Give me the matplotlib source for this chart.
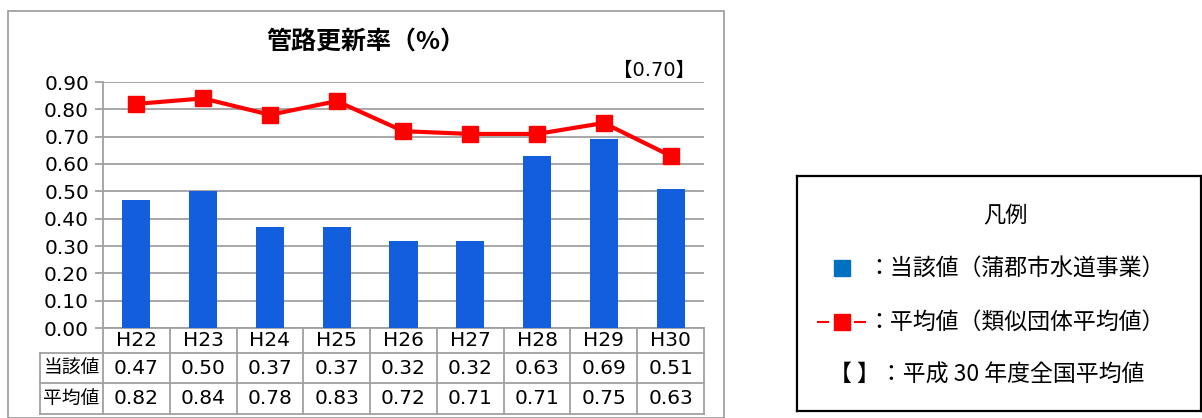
import matplotlib
matplotlib.use("Agg")
import matplotlib.pyplot as plt
from matplotlib.patches import Rectangle
from matplotlib.lines import Line2D
from matplotlib.transforms import blended_transform_factory

# digits in DejaVu (wide like the original), kanji fall back to Noto CJK
plt.rcParams['font.family'] = ['DejaVu Sans', 'Noto Sans CJK JP']
CJK = ['Noto Sans CJK JP', 'DejaVu Sans']

# data
years = ['H22', 'H23', 'H24', 'H25', 'H26', 'H27', 'H28', 'H29', 'H30']
own_values = [0.47, 0.50, 0.37, 0.37, 0.32, 0.32, 0.63, 0.69, 0.51]
avg_values = [0.82, 0.84, 0.78, 0.83, 0.72, 0.71, 0.71, 0.75, 0.63]
row_labels = ['当該値', '平均値']
national_avg = '【0.70】'
yticks = [0.0, 0.1, 0.2, 0.3, 0.4, 0.5, 0.6, 0.7, 0.8, 0.9]

W, H = 1202, 418
fig = plt.figure(figsize=(W / 100, H / 100), dpi=100)

def fx(px):
    return px / W

def fy(py):
    return 1 - py / H

# outer chart frame
fig.add_artist(Rectangle((fx(8), fy(418)), fx(716), fy(11) - fy(418),
                         transform=fig.transFigure, fill=False,
                         edgecolor='#9a9a9a', lw=1.2))
fig.text(fx(366), fy(42), '管路更新率（%）', ha='center', va='center',
         fontsize=18, fontweight='bold', family=CJK)

# main plot area
ax = fig.add_axes([fx(103), fy(328), fx(704 - 103), fy(82) - fy(328)])
x = list(range(len(years)))
ax.bar(x, own_values, width=0.42, color='#135EDC', zorder=3)
ax.plot(x, avg_values, color='#FF0000', lw=3, marker='s', markersize=12,
        zorder=4)
ax.set_xlim(-0.5, len(years) - 0.5)
ax.set_ylim(0, 0.9)
ax.set_yticks(yticks)
ax.set_yticklabels([f'{v:.2f}' for v in yticks], fontsize=14.5)
ax.set_xticks([])
ax.yaxis.grid(True, color='#a0a0a0', lw=1.3)
ax.set_axisbelow(True)
for s in ['top', 'right', 'bottom']:
    ax.spines[s].set_visible(False)
ax.spines['left'].set_color('#a0a0a0')
ax.spines['left'].set_linewidth(1.3)
ax.tick_params(axis='y', length=6, color='#a0a0a0', width=1.3, pad=4)

ax.text(0.985, 1.01, national_avg, transform=ax.transAxes, ha='right',
        va='bottom', fontsize=14)

# data table below the plot
tr = blended_transform_factory(ax.transData, ax.transAxes)
axh = 328 - 82
row_bottoms = [-(353 - 328) / axh, -(383 - 328) / axh, -(414 - 328) / axh]
label_left = -0.5 - (103 - 40) / ((704 - 103) / len(years))
lc = '#a0a0a0'
xr = len(years) - 0.5
ax.add_line(Line2D([-0.5, xr], [0, 0], transform=tr, color=lc, lw=1.3, clip_on=False))
for yb in row_bottoms:
    ax.add_line(Line2D([label_left, xr], [yb, yb], transform=tr, color=lc,
                       lw=1.3, clip_on=False))
for k in range(len(years) + 1):
    ax.add_line(Line2D([k - 0.5, k - 0.5], [0, row_bottoms[-1]], transform=tr,
                       color=lc, lw=1.3, clip_on=False))
ax.add_line(Line2D([label_left, label_left], [row_bottoms[0], row_bottoms[-1]],
                   transform=tr, color=lc, lw=1.3, clip_on=False))

row_tops = [0] + row_bottoms[:-1]
centers = [(a + b) / 2 for a, b in zip(row_tops, row_bottoms)]
for i, yr in enumerate(years):
    ax.text(i, centers[0], yr, transform=tr, ha='center', va='center', fontsize=14.5)
    ax.text(i, centers[1], f'{own_values[i]:.2f}', transform=tr, ha='center',
            va='center', fontsize=14.5)
    ax.text(i, centers[2], f'{avg_values[i]:.2f}', transform=tr, ha='center',
            va='center', fontsize=14.5)
for lab, c in zip(row_labels, centers[1:]):
    ax.text((label_left - 0.5) / 2, c, lab, transform=tr, ha='center',
            va='center', fontsize=13.5, family=CJK)

# legend box
lg = fig.add_axes([fx(797), fy(411), fx(1201 - 797), fy(176) - fy(411)])
lg.set_xlim(797, 1201)
lg.set_ylim(411, 176)
lg.set_xticks([])
lg.set_yticks([])
for s in lg.spines.values():
    s.set_color('black')
    s.set_linewidth(1.6)
lg.text(1005, 216, '凡例', ha='center', va='center', fontsize=16, family=CJK)
lg.plot([842], [268], marker='s', markersize=12, color='#0070C0', lw=0)
lg.plot([818, 828], [322, 322], color='#FF0000', lw=1.5)
lg.plot([855, 865], [322, 322], color='#FF0000', lw=1.5)
lg.plot([842], [322], marker='s', markersize=12, color='#FF0000', lw=0)
lg.text(867, 268, '：当該値（蒲郡市水道事業）', ha='left', va='center',
        fontsize=16.5, family=CJK)
lg.text(867, 322, '：平均値（類似団体平均値）', ha='left', va='center',
        fontsize=16.5, family=CJK)
lg.text(829, 375, '【 】：平成 30 年度全国平均値', ha='left', va='center',
        fontsize=16.5, family=CJK)

fig.savefig('out.png', dpi=100)
